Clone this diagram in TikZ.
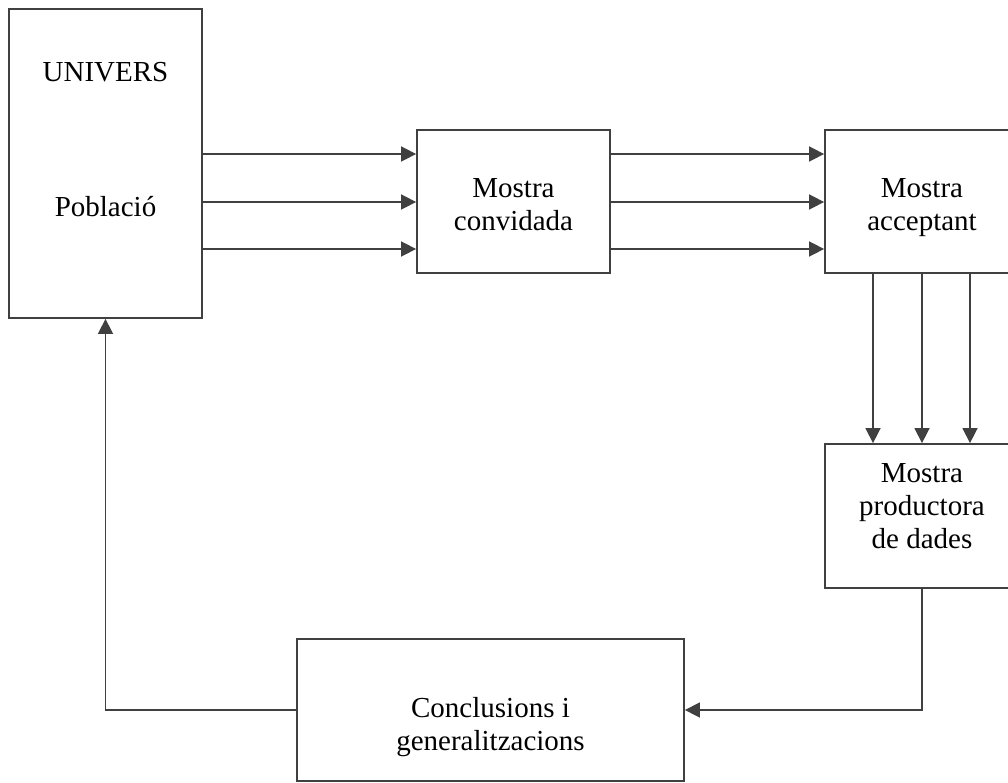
\documentclass[tikz,border=0pt]{standalone}
\usepackage{fontspec}
\setmainfont{Liberation Serif}
\usetikzlibrary{arrows.meta}

\definecolor{linegray}{HTML}{404040}

\tikzset{
  box/.style={draw=linegray, line width=1.8pt, rectangle, inner sep=0pt},
  txt/.style={anchor=base, inner sep=0pt, font=\fontsize{29}{33}\selectfont},
  arr/.style={draw=linegray, line width=1.6pt,
              -{Triangle[length=15pt, width=15pt]}},
  link/.style={draw=linegray, line width=1.6pt}
}

\begin{document}
\begin{tikzpicture}[x=1pt, y=-1pt]
  \clip (0,0) rectangle (1008,783);
  \fill[white] (0,0) rectangle (1008,783);

  % blocks
  \node[box, minimum width=193pt, minimum height=309pt] (univ)  at (105.5,163.5) {};
  \node[box, minimum width=193pt, minimum height=143pt] (conv)  at (513.5,201.5) {};
  \node[box, minimum width=194pt, minimum height=143pt] (accep) at (922,201.5)   {};
  \node[box, minimum width=194pt, minimum height=144pt] (prod)  at (922,516)     {};
  \node[box, minimum width=387pt, minimum height=142pt] (concl) at (490.5,710)   {};

  % labels
  \node[txt] (univA) at (105.5,82)  {UNIVERS};
  \node[txt] (univB) at (105.5,217) {Població};
  \node[txt] (convA) at (513.5,198) {Mostra};
  \node[txt] (convB) at (513.5,231) {convidada};
  \node[txt] (accA)  at (922,198)   {Mostra};
  \node[txt] (accB)  at (922,231)   {acceptant};
  \node[txt] (prodA) at (922,482)   {Mostra};
  \node[txt] (prodB) at (922,515)   {productora};
  \node[txt] (prodC) at (922,548)   {de dades};
  \node[txt] (conA)  at (490.5,717) {Conclusions i};
  \node[txt] (conB)  at (490.5,750) {generalitzacions};

  % population -> invited sample
  \foreach \yy in {154,202,249} {
    \draw[arr] (univ.east |- 0,\yy) -- (conv.west |- 0,\yy);
  }
  % invited sample -> accepting sample
  \foreach \yy in {154,202,249} {
    \draw[arr] (conv.east |- 0,\yy) -- (accep.west |- 0,\yy);
  }
  % accepting sample -> data-producing sample
  \foreach \xx in {873,922,970} {
    \draw[arr] (accep.south -| \xx,0) -- (prod.north -| \xx,0);
  }
  % data-producing sample -> conclusions
  \draw[arr] (prod.south) |- (concl.east);
  % conclusions -> population
  \draw[arr] (concl.west) -| (univ.south);
\end{tikzpicture}
\end{document}
